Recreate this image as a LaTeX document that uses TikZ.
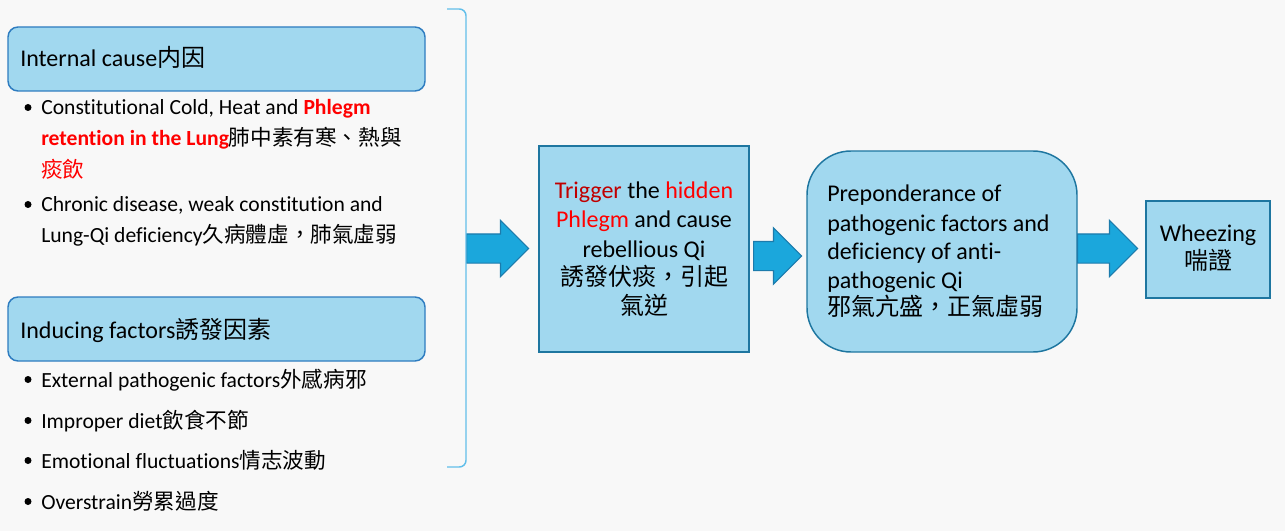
\documentclass[tikz,border=0pt]{standalone}
\usepackage{fontspec}
\setmainfont{Carlito}[Ligatures=NoCommon]
\newfontfamily\cjk{Noto Sans CJK TC}
\usetikzlibrary{shapes.arrows}
\definecolor{bgc}{HTML}{F8F8F8}
\definecolor{boxfill}{HTML}{A1D8EF}
\definecolor{hdrline}{HTML}{2E7CC0}
\definecolor{boxline}{HTML}{1E76A0}
\definecolor{arrfill}{HTML}{1BA7DC}
\definecolor{arrline}{HTML}{1C7BAC}
\definecolor{brk}{HTML}{62BFEA}
\definecolor{tred}{HTML}{FF0000}
\definecolor{tdred}{HTML}{C00000}
\def\pxu{0.75pt}
\tikzset{
  hdrbox/.style={draw=hdrline, fill=boxfill, line width=1.1pt, rounded corners=7.5pt, inner sep=0pt},
  sqbox/.style={draw=boxline, fill=boxfill, line width=1.1pt, inner sep=0pt},
  rbox/.style={draw=boxline, fill=boxfill, line width=1.1pt, rounded corners=33pt, inner sep=0pt},
  blockarrow/.style={single arrow, draw=arrline, fill=arrfill, line width=0.9pt,
    inner xsep=0pt, inner ysep=14*\pxu, single arrow head extend=13.5*\pxu,
    single arrow tip angle=90, shape border rotate=0, anchor=tail},
  txtl/.style={anchor=base west, inner sep=0pt, font=\fontsize{16.2}{19}\selectfont},
  txtbl/.style={anchor=base west, inner sep=0pt, font=\fontsize{18}{21}\selectfont},
  txtbc/.style={anchor=base, inner sep=0pt, font=\fontsize{18}{21}\selectfont},
  bul/.style={txtl, label={[circle, fill=black, inner sep=0pt, minimum size=7*\pxu, anchor=center,
     xshift=-13*\pxu, yshift=7.5*\pxu]base west:}},
  bracket/.style={draw=brk, line width=1.1pt, rounded corners=5pt}
}
\begin{document}
\begin{tikzpicture}[x=0.75pt, y=-0.75pt]
\fill[bgc] (0,0) rectangle (1285,531);
\useasboundingbox (0,0) rectangle (1285,531);

% left header boxes
\node[hdrbox, minimum width=417*\pxu, minimum height=64*\pxu] (ic) at (216.5,59) {};
\node[hdrbox, minimum width=417*\pxu, minimum height=64*\pxu] (if) at (216.5,329) {};
\node[txtbl] (ict) at (20,67) {Internal cause{\cjk 内因}};
\node[txtbl] (ift) at (20,338) {Inducing factors{\cjk 誘發因素}};

% internal cause bullets
\node[bul] (i1a) at (41,115) {Constitutional Cold, Heat and {\bfseries\color{tred}Phlegm}};
\node[txtl] (i1b) at (41,146) {{\bfseries\color{tred}retention in the Lung}{\cjk 肺中素有寒、熱與}};
\node[txtl] (i1c) at (41,177.5) {{\cjk\color{tred}痰飲}};
\node[bul] (i2a) at (41,212) {Chronic disease, weak constitution and};
\node[txtl] (i2b) at (41,243) {Lung-Qi deficiency{\cjk 久病體虛，肺氣虛弱}};

% inducing factor bullets
\node[bul] (f1) at (41,387) {External pathogenic factors{\cjk 外感病邪}};
\node[bul] (f2) at (41,428) {Improper diet{\cjk 飲食不節}};
\node[bul] (f3) at (41,468) {Emotional fluctuations{\cjk 情志波動}};
\node[bul] (f4) at (41,509) {Overstrain{\cjk 勞累過度}};

% center boxes
\node[sqbox, minimum width=210*\pxu, minimum height=206*\pxu] (b2) at (644,249) {};
\node[rbox, minimum width=270*\pxu, minimum height=201*\pxu] (b3) at (942,251.5) {};
\node[sqbox, minimum width=124*\pxu, minimum height=97*\pxu] (b4) at (1208,249.5) {};

% block arrows
\node[blockarrow, minimum height=62*\pxu] (a1) at (466,248.5) {};
\node[blockarrow, minimum height=48*\pxu] (a2) at (753,256) {};
\node[blockarrow, minimum height=60*\pxu] (a3) at (1077,248.5) {};

% bracket
\coordinate (bt) at (447,9);
\coordinate (bb) at (447,467);
\draw[bracket] (bt) -- (466,9) -- (466,467) -- (bb);

% box 2 text
\node[txtbc] (t21) at (644,199) {{\color{tdred}Trigger} the {\color{tred}hidden}};
\node[txtbc] (t22) at (644,228) {{\color{tred}Phlegm} and cause};
\node[txtbc] (t23) at (644,257) {rebellious Qi};
\node[txtbc] (t24) at (644,285.5) {{\cjk 誘發伏痰，引起}};
\node[txtbc] (t25) at (644,314) {{\cjk 氣逆}};

% box 3 text
\node[txtbl] (t31) at (827,202) {Preponderance of};
\node[txtbl] (t32) at (827,231) {pathogenic factors and};
\node[txtbl] (t33) at (827,259.5) {deficiency of anti-};
\node[txtbl] (t34) at (827,288) {pathogenic Qi};
\node[txtbl] (t35) at (827,315.5) {{\cjk 邪氣亢盛，正氣虛弱}};

% box 4 text
\node[txtbc] (t41) at (1208,242) {Wheezing};
\node[txtbc] (t42) at (1208,269.5) {{\cjk 喘證}};
\end{tikzpicture}
\end{document}
